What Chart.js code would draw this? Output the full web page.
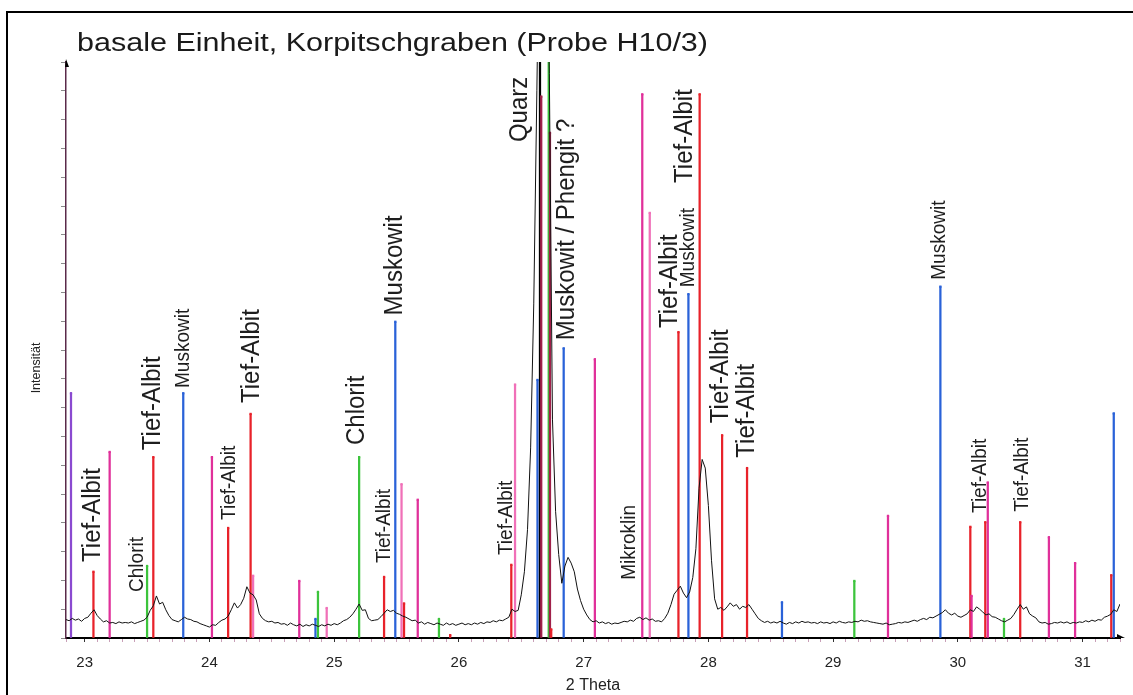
<!DOCTYPE html>
<html>
<head>
<meta charset="utf-8">
<script src="https://cdn.jsdelivr.net/npm/chart.js@4.4.1/dist/chart.umd.min.js"></script>
<style>
  html, body { margin: 0; padding: 0; background: #fff; }
  #wrap { position: relative; width: 1133px; height: 695px; }
</style>
</head>
<body>
<div id="wrap"><canvas id="xrd"></canvas></div>
<script>
// Messkurve: 2 Theta ab 22.85 in Schritten von 0.025
const thetaStart = 22.85;
const thetaStep = 0.025;
const intensity = [
  3.2, 3.0, 3.4, 3.1, 3.3, 2.9, 3.4, 3.6, 4.3, 4.9, 3.9, 3.3, 2.8, 3.0, 2.6, 2.7, 2.5, 2.8, 2.6, 2.7,
  2.6, 2.8, 2.5, 2.7, 2.9, 3.1, 3.6, 4.8, 5.6, 7.3, 5.9, 6.2, 4.9, 3.9, 3.2, 3.0, 2.8, 3.2, 3.6, 3.3,
  3.2, 2.9, 2.8, 2.5, 2.3, 2.1, 1.9, 2.3, 2.2, 2.7, 3.1, 3.3, 3.8, 4.9, 6.1, 5.2, 5.8, 6.9, 8.9, 7.8,
  7.5, 6.6, 4.2, 3.4, 3.0, 2.8, 2.9, 2.6, 2.7, 2.4, 2.5, 2.2, 2.6, 2.3, 2.1, 2.4, 2.0, 2.3, 2.1, 2.4,
  2.2, 2.0, 2.3, 2.1, 2.4, 2.2, 2.5, 2.3, 2.6, 3.0, 3.2, 3.6, 4.2, 5.0, 5.9, 4.8, 4.9, 3.4, 3.0, 3.1,
  3.2, 3.7, 4.3, 4.9, 4.6, 4.8, 4.3, 4.1, 3.8, 3.6, 3.3, 3.0, 3.1, 2.6, 2.8, 2.4, 2.7, 2.5, 2.3, 2.6,
  2.4, 2.2, 2.6, 2.3, 2.5, 2.2, 2.4, 2.6, 2.3, 2.5, 2.3, 2.6, 2.4, 2.7, 2.5, 2.8, 2.7, 3.0, 2.8, 3.1,
  3.0, 3.3, 3.6, 5.0, 4.6, 4.8, 7.5, 11.5, 18.8, 33, 58, 95, 135, 145, 130, 98, 38, 22, 14.5, 9.5,
  12.5, 14.0, 13.0, 11.5, 8.5, 6.5, 5.0, 4.0, 3.2, 2.8, 3.0, 2.6, 2.8, 2.5, 2.7, 2.4, 2.6, 2.5, 2.7, 2.9,
  2.8, 3.1, 2.9, 3.4, 3.6, 3.2, 3.5, 3.1, 3.3, 2.9, 3.0, 2.8, 3.4, 4.3, 5.8, 7.6, 8.3, 9.0, 7.8, 7.0,
  8.0, 10.5, 15.5, 26.0, 31.0, 29.5, 23.0, 13.5, 6.8, 5.0, 5.3, 4.8, 5.4, 6.1, 5.5, 5.8, 5.0, 5.5, 5.3, 5.8,
  5.0, 4.2, 3.4, 3.0, 2.7, 2.9, 2.6, 2.8, 2.6, 2.9, 2.6, 2.4, 2.7, 2.5, 2.8, 2.6, 2.9, 2.7, 2.8, 2.6,
  2.7, 2.5, 2.8, 2.6, 2.7, 2.5, 2.8, 2.6, 2.9, 2.7, 2.6, 2.8, 2.7, 2.9, 2.8, 3.1, 2.9, 3.0, 2.8, 2.7,
  2.6, 2.5, 2.4, 2.6, 2.3, 2.4, 2.5, 2.7, 2.6, 2.8, 2.7, 2.9, 3.1, 2.9, 3.2, 3.4, 3.2, 3.6, 3.5, 3.8,
  4.1, 4.4, 4.9, 4.3, 4.0, 4.3, 3.8, 3.6, 3.9, 4.2, 4.9, 4.6, 5.4, 5.0, 4.5, 4.0, 4.2, 3.7, 3.6, 3.3,
  3.0, 2.8, 3.1, 3.4, 4.1, 5.0, 5.8, 5.0, 5.4, 4.2, 3.8, 3.5, 2.8, 2.6, 2.7, 2.4, 2.5, 2.7, 2.6, 2.8,
  2.6, 2.8, 2.5, 2.7, 2.6, 2.8, 2.7, 3.0, 2.8, 3.1, 2.9, 3.2, 3.1, 3.6, 3.8, 4.1, 4.9, 4.6, 5.9, 6.6
];
const theta = intensity.map((_, i) => +(thetaStart + i * thetaStep).toFixed(3));

// Referenzlinien (Stick-Pattern) der Phasen
const stickTheta = [22.89, 23.07, 23.20, 23.50, 23.55, 23.79, 24.02, 24.15, 24.33, 24.35,
  24.72, 24.85, 24.87, 24.94, 25.20, 25.40, 25.49, 25.54, 25.56, 25.67,
  25.84, 25.93, 26.42, 26.45, 26.63, 26.65, 26.66, 26.72, 26.73, 26.74,
  26.84, 27.09, 27.47, 27.53, 27.76, 27.84, 27.93, 28.11, 28.31, 28.59,
  29.17, 29.44, 29.86, 30.10, 30.11, 30.22, 30.24, 30.37, 30.50, 30.73,
  30.94, 31.23, 31.25];
const stickInt = [42.5, 11.5, 32.3, 12.5, 31.4, 42.5, 31.4, 19.1, 38.9, 10.8,
  9.9, 3.3, 8.0, 5.2, 31.4, 10.6, 54.9, 26.7, 6.0, 24.0,
  3.3, 0.5, 12.7, 44.0, 44.8, 130, 94.0, 130, 87.7, 1.5,
  50.3, 48.4, 94.4, 73.8, 53.1, 59.7, 94.4, 35.2, 29.5, 6.2,
  9.9, 21.2, 61.0, 19.3, 7.3, 20.1, 27.0, 3.3, 20.1, 17.5,
  13.0, 10.9, 39.0];
const stickPhase = ['V', 'A', 'K', 'C', 'A', 'M', 'K', 'A', 'A', 'P',
  'K', 'M', 'C', 'P', 'C', 'A', 'M', 'P', 'A', 'K',
  'C', 'A', 'A', 'P', 'M', 'Q', 'X', 'C', 'X', 'A',
  'M', 'K', 'K', 'P', 'A', 'M', 'A', 'A', 'A', 'M',
  'C', 'K', 'M', 'A', 'K', 'A', 'K', 'C', 'A', 'K',
  'K', 'A', 'M'];

const phaseColor = {
  A: '#e8222a',  // Tief-Albit
  M: '#2a62d8',  // Muskowit
  C: '#3cc43c',  // Chlorit
  K: '#e0309a',
  P: '#f070b8',
  Q: '#000000',  // Quarz
  X: '#a0204a',
  V: '#8a4ad0'
};
const stickColors = stickPhase.map(p => phaseColor[p]);

// Beschriftungen: [Text, 2Theta, Intensitaet am Textanfang, gross?]
const annotations = [
  ['Tief-Albit', 23.064, 13.2, true],
  ['Chlorit', 23.425, 8.0, false],
  ['Tief-Albit', 23.545, 32.6, true],
  ['Muskowit', 23.786, 43.4, false],
  ['Tief-Albit', 24.158, 20.5, false],
  ['Tief-Albit', 24.34, 40.8, true],
  ['Chlorit', 25.18, 33.5, true],
  ['Tief-Albit', 25.40, 13.0, false],
  ['Muskowit', 25.485, 56.0, true],
  ['Tief-Albit', 26.383, 14.4, false],
  ['Quarz', 26.487, 86.1, true],
  ['Muskowit / Phengit ?', 26.864, 51.7, true],
  ['Mikroklin', 27.369, 10.1, false],
  ['Tief-Albit', 27.69, 53.8, true],
  ['Muskowit', 27.842, 60.9, false],
  ['Tief-Albit', 27.81, 79.0, true],
  ['Tief-Albit', 28.098, 37.3, true],
  ['Tief-Albit', 28.307, 31.3, true],
  ['Muskowit', 29.854, 62.2, false],
  ['Tief-Albit', 30.18, 21.7, false],
  ['Tief-Albit', 30.52, 21.9, false]
];

const FONT = '"Liberation Sans", Arial, sans-serif';
const TITLE = 'basale Einheit, Korpitschgraben (Probe H10/3)';

const decorPlugin = {
  id: 'decor',
  afterDraw(chart) {
    const ctx = chart.ctx;
    const xs = chart.scales.x;
    const ys = chart.scales.y;
    const area = chart.chartArea;
    ctx.save();

    // Rahmen links und oben
    ctx.fillStyle = '#000';
    ctx.fillRect(6, 11, 2, 700);
    ctx.fillRect(6, 11, 1140, 2);

    // Titel (im Original leicht in die Breite gezogen)
    ctx.save();
    ctx.fillStyle = '#1a1a1a';
    ctx.font = '26px ' + FONT;
    ctx.textBaseline = 'alphabetic';
    const tw = ctx.measureText(TITLE).width;
    ctx.translate(77, 51);
    ctx.scale(631 / tw, 1);
    ctx.fillText(TITLE, 0, 0);
    ctx.restore();

    // Achsenbeschriftung y
    ctx.save();
    ctx.fillStyle = '#222';
    ctx.font = '12.5px ' + FONT;
    ctx.translate(37, 368);
    ctx.rotate(-Math.PI / 2);
    ctx.textAlign = 'center';
    ctx.textBaseline = 'middle';
    ctx.fillText('Intensität', 0, 0);
    ctx.restore();

    // Pfeilspitzen an den Achsen
    ctx.fillStyle = '#000';
    ctx.beginPath();
    ctx.moveTo(area.left, area.top - 3);
    ctx.lineTo(area.left + 3, area.top + 5);
    ctx.lineTo(area.left - 1, area.top + 5);
    ctx.closePath();
    ctx.fill();
    ctx.beginPath();
    ctx.moveTo(area.right + 5, area.bottom);
    ctx.lineTo(area.right - 3, area.bottom - 4);
    ctx.lineTo(area.right - 3, area.bottom);
    ctx.closePath();
    ctx.fill();

    // Phasenbeschriftungen, senkrecht
    ctx.fillStyle = '#1e1e1e';
    annotations.forEach(([text, t, v, big]) => {
      ctx.save();
      ctx.translate(xs.getPixelForValue(t), ys.getPixelForValue(v));
      ctx.rotate(-Math.PI / 2);
      ctx.scale(1, 1.1);
      ctx.font = (big ? '24px ' : '19px ') + FONT;
      ctx.textAlign = 'left';
      ctx.textBaseline = 'middle';
      ctx.fillText(text, 0, 0);
      ctx.restore();
    });
    ctx.restore();
  }
};

const isInt = v => Math.abs(v - Math.round(v)) < 1e-6;

new Chart(document.getElementById('xrd'), {
  type: 'line',
  data: {
    datasets: [{
      label: 'Messung',
      data: theta.map((t, i) => ({ x: t, y: intensity[i] })),
      borderColor: '#111',
      borderWidth: 1,
      pointRadius: 0,
      tension: 0,
      order: 0
    }, {
      type: 'bar',
      label: 'Referenz',
      data: stickTheta.map((t, i) => ({ x: t, y: stickInt[i] })),
      backgroundColor: stickColors,
      borderWidth: 0,
      barThickness: 1.6,
      grouped: false,
      order: 2
    }, {
      label: 'Referenz-Spitzen',
      data: stickTheta.map((t, i) => ({ x: t, y: stickInt[i] })),
      showLine: false,
      pointStyle: 'rect',
      pointRadius: 1.6,
      pointBorderWidth: 0,
      pointBackgroundColor: stickColors,
      order: 1
    }]
  },
  options: {
    responsive: true,
    maintainAspectRatio: false,
    animation: false,
    devicePixelRatio: 1,
    layout: { padding: { left: 20, top: 62, right: 13, bottom: 0 } },
    plugins: {
      legend: { display: false },
      tooltip: { enabled: false }
    },
    scales: {
      x: {
        type: 'linear',
        offset: false,
        min: 22.85,
        max: 31.3,
        afterFit(scale) { scale.height = 57; },
        border: { color: '#000', width: 2 },
        grid: {
          offset: false,
          drawOnChartArea: false,
          tickLength: 4,
          tickColor: c => (c.tick && isInt(c.tick.value)) ? '#333' : '#c9a0b8'
        },
        ticks: {
          stepSize: 0.1,
          autoSkip: false,
          maxRotation: 0,
          padding: 12,
          color: '#222',
          font: { family: FONT, size: 15 },
          callback: v => isInt(v) ? String(Math.round(v)) : ''
        },
        title: {
          display: true,
          text: '2 Theta',
          color: '#222',
          font: { family: FONT, size: 16 },
          padding: { top: 2, bottom: 0 }
        }
      },
      y: {
        min: 0,
        max: 100,
        afterFit(scale) { scale.width = 46; },
        border: { color: '#5a2a4a', width: 1.5 },
        grid: {
          drawOnChartArea: false,
          tickLength: 5,
          tickColor: '#8a8a8a'
        },
        ticks: {
          stepSize: 5,
          callback: () => ''
        }
      }
    }
  },
  plugins: [decorPlugin]
});
</script>
</body>
</html>
